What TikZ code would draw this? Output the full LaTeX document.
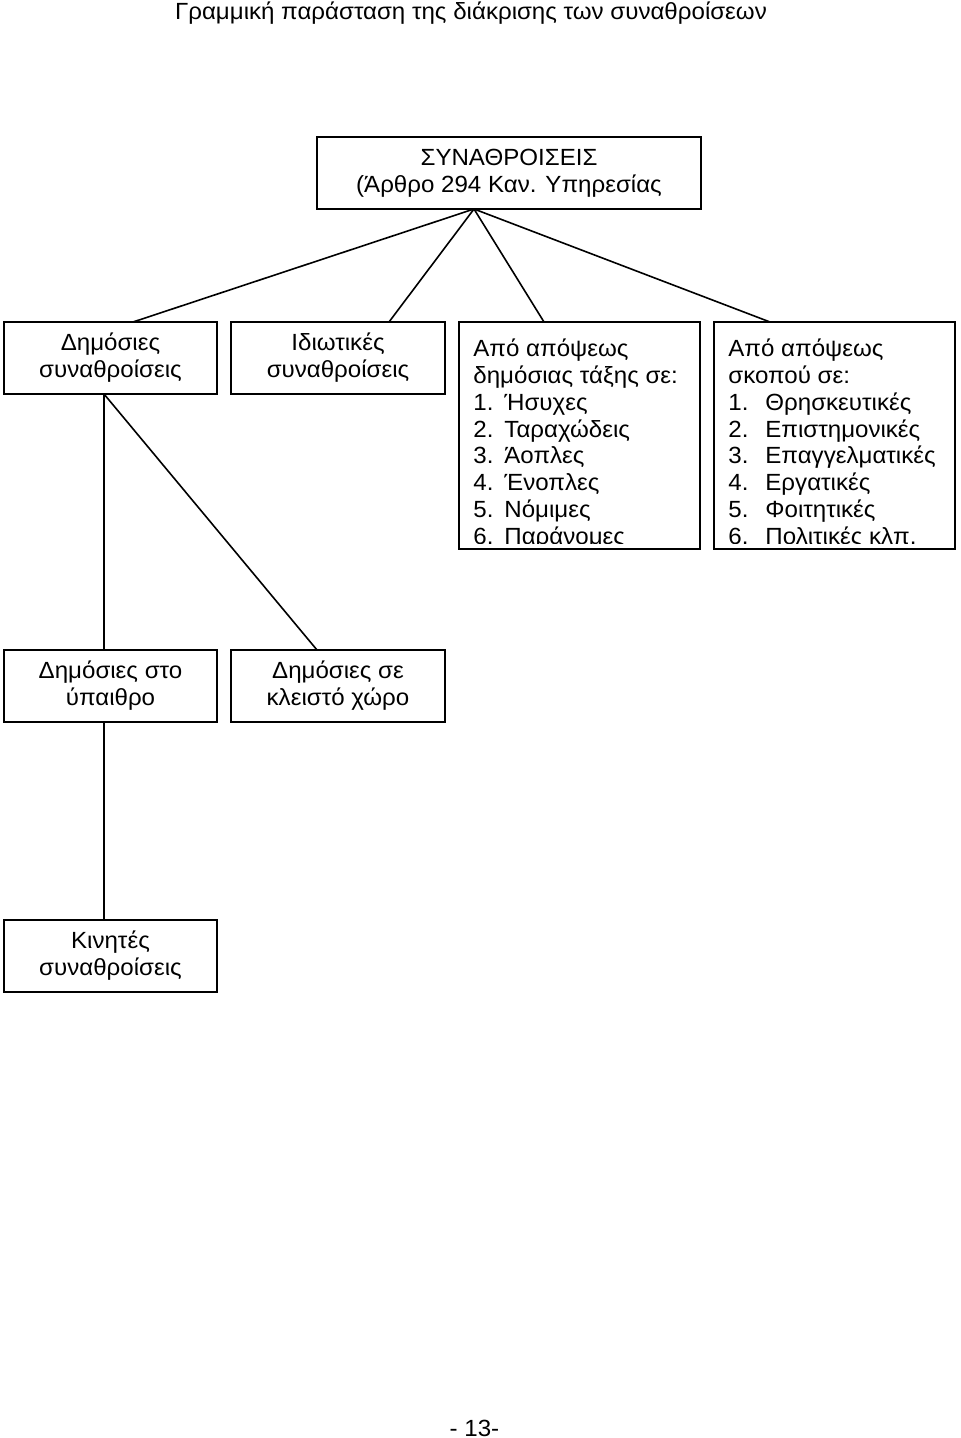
\documentclass[tikz,border=0pt]{standalone}
\usepackage{fontspec}
\setmainfont[FakeStretch=1.03]{Liberation Sans}
\usetikzlibrary{positioning}

\begin{document}
\begin{tikzpicture}[x=1pt, y=1pt,
        font=\fontsize{11.7}{13.5}\selectfont,
        box/.style={draw, line width=0.9pt, inner sep=0pt, outer sep=0pt, align=center, minimum width=107pt, minimum height=36pt},
        listbox/.style={draw, line width=0.9pt, inner sep=0pt, outer sep=0pt, minimum width=120.5pt, minimum height=113.5pt},
        listtext/.style={anchor=base west, inner sep=0pt, font=\fontsize{11.7}{13.36}\selectfont},
        conn/.style={line width=0.8pt}]
        \useasboundingbox (0,0) rectangle (480,-719);

        % Title
        \node [anchor=base west] (title) at (84,-10) {Γραμμική παράσταση της διάκρισης των συναθροίσεων};

        % Top
        \node [box, minimum width=192pt] (synath) at (254.5,-86.5) {ΣΥΝΑΘΡΟΙΣΕΙΣ\\(Άρθρο 294 Καν. Υπηρεσίας};

        % Second level
        \node [box, minimum width=106.5pt, anchor=north west] (dimosies) at (2,-161) {Δημόσιες\\συναθροίσεις};
        \node [box, right=7pt of dimosies] (idiotikes) {Ιδιωτικές\\συναθροίσεις};
        \node [listbox, right=7pt of idiotikes.north east, anchor=north west] (taxi) {};
        \node [listbox, right=7pt of taxi.north east, anchor=north west] (skopos) {};

        % Lists (cut at the bottom of the boxes)
        \begin{scope}
            \clip (taxi.north west) rectangle ([yshift=3pt]taxi.south east);
            \node [listtext] (taxilist) at ([xshift=7pt, yshift=-17.5pt]taxi.north west) {\begin{tabular}[t]{@{}p{15.5pt}@{}l@{}}
                \multicolumn{2}{@{}l@{}}{Από απόψεως}\\
                \multicolumn{2}{@{}l@{}}{δημόσιας τάξης σε:}\\
                1. & Ήσυχες\\
                2. & Ταραχώδεις\\
                3. & Άοπλες\\
                4. & Ένοπλες\\
                5. & Νόμιμες\\
                6. & Παράνομες
            \end{tabular}};
        \end{scope}
        \begin{scope}
            \clip (skopos.north west) rectangle ([yshift=3pt]skopos.south east);
            \node [listtext] (skoposlist) at ([xshift=7pt, yshift=-17.5pt]skopos.north west) {\begin{tabular}[t]{@{}p{18.5pt}@{}l@{}}
                \multicolumn{2}{@{}l@{}}{Από απόψεως}\\
                \multicolumn{2}{@{}l@{}}{σκοπού σε:}\\
                1. & Θρησκευτικές\\
                2. & Επιστημονικές\\
                3. & Επαγγελματικές\\
                4. & Εργατικές\\
                5. & Φοιτητικές\\
                6. & Πολιτικές κλπ.
            \end{tabular}};
        \end{scope}

        % Third and fourth level
        \node [box, minimum width=106.5pt, below=128pt of dimosies] (ypaithro) {Δημόσιες στο\\ύπαιθρο};
        \node [box, right=7pt of ypaithro] (kleistos) {Δημόσιες σε\\κλειστό χώρο};
        \node [box, minimum width=106.5pt, below=99pt of ypaithro] (kinites) {Κινητές\\συναθροίσεις};

        % Lines
        \coordinate (apex) at ([xshift=-17.5pt]synath.south);
        \draw [conn] (apex) -- ([xshift=11.25pt]dimosies.north);
        \draw [conn] (apex) -- ([xshift=25.5pt]idiotikes.north);
        \draw [conn] (apex) -- ([xshift=-17.75pt]taxi.north);
        \draw [conn] (apex) -- ([xshift=-32.25pt]skopos.north);

        \coordinate (fork) at ([xshift=-3.25pt]dimosies.south);
        \draw [conn] (fork) -- (fork |- ypaithro.north);
        \draw [conn] (fork) -- ([xshift=-10.5pt]kleistos.north);
        \draw [conn] (fork |- ypaithro.south) -- (fork |- kinites.north);

        % Page number
        \node [anchor=base] (pagenum) at (237.25,-718) {- 13-};
    \end{tikzpicture}
\end{document}
